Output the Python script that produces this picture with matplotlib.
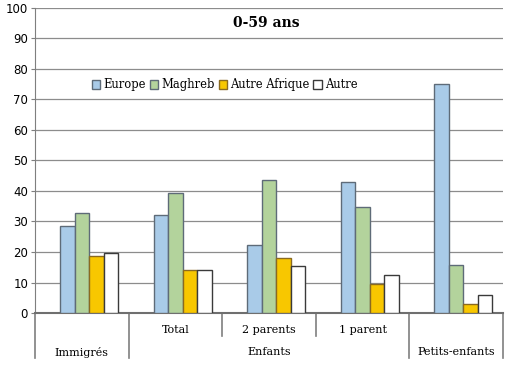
import numpy as np
import matplotlib
matplotlib.use("Agg")
import matplotlib.pyplot as plt

# data
groups = ["Immigrés", "Total", "2 parents", "1 parent", "Petits-enfants"]
series = ["Europe", "Maghreb", "Autre Afrique", "Autre"]
europe = [28.6, 32.1, 22.2, 43.0, 75.0]
maghreb = [32.9, 39.3, 43.6, 34.8, 15.8]
autre_afrique = [18.7, 14.1, 18.1, 9.6, 2.8]
autre = [19.7, 14.1, 15.4, 12.5, 5.9]
top_labels = ["", "Total", "2 parents", "1 parent", ""]
bottom_labels = ["Immigrés", "Enfants", "Petits-enfants"]
bottom_spans = [(0, 1), (1, 4), (4, 5)]

values = [europe, maghreb, autre_afrique, autre]
colors = ["#A9CBE8", "#B3D39C", "#F8C700", "#FFFFFF"]
edges = ["#5E6B78", "#5E6B78", "#8A6A20", "#3A3A3A"]

fig = plt.figure(figsize=(5.08, 3.66), dpi=100)
ax = fig.add_axes([35 / 508, 1 - 313 / 366, 468 / 508, 305 / 366])

x = np.arange(len(groups))
w = 0.155
for i, (vals, c, ec) in enumerate(zip(values, colors, edges)):
    ax.bar(x + (i - 1) * w, vals, w, color=c, edgecolor=ec, linewidth=1.0,
           label=series[i], zorder=3)

ax.set_xlim(-0.5, len(groups) - 0.5)
ax.set_ylim(0, 100)
ax.set_yticks(range(0, 101, 10))
ax.tick_params(axis="y", labelsize=8.5, length=3, color="#7F7F7F", pad=2)
ax.set_xticks([])
ax.yaxis.grid(True, color="#8C8C8C", linewidth=0.9, zorder=0)
ax.set_axisbelow(True)
for s in ["top", "right"]:
    ax.spines[s].set_visible(False)
ax.spines["left"].set_color("#7F7F7F")
ax.spines["bottom"].set_color("#6F6F6F")
ax.spines["bottom"].set_linewidth(1.5)

ax.text(0.494, 0.95, "0-59 ans", transform=ax.transAxes, ha="center", va="center",
        fontsize=10, fontweight="bold", family="DejaVu Serif")

ax.legend(loc="upper left", bbox_to_anchor=(0.111, 0.784), ncol=4, frameon=False,
          prop={"family": "DejaVu Serif", "size": 8.3}, handlelength=0.75,
          handleheight=0.75, handletextpad=0.25, columnspacing=0.35,
          borderaxespad=0)

# category axis: two rows of labels with separators
trans = ax.get_xaxis_transform()
y_row1 = -15 / 305
y_row2 = -39 / 305
y_mid = -23 / 305
y_end = -45 / 305
for i, lab in enumerate(top_labels):
    if lab:
        ax.text(i, y_row1 - 0.005, lab, transform=trans, ha="center", va="center",
                fontsize=8, family="DejaVu Serif")
for lab, (a, b) in zip(bottom_labels, bottom_spans):
    ax.text((a + b - 1) / 2, y_row2, lab, transform=trans, ha="center", va="center",
            fontsize=8, family="DejaVu Serif")

for b in range(len(groups) + 1):
    edge = b - 0.5
    full = any(edge == a - 0.5 or edge == e - 0.5 for a, e in bottom_spans)
    ax.plot([edge, edge], [0, y_end if full else y_mid], transform=trans,
            color="#7F7F7F", linewidth=1.2, clip_on=False)

fig.savefig("out.png", dpi=100)
